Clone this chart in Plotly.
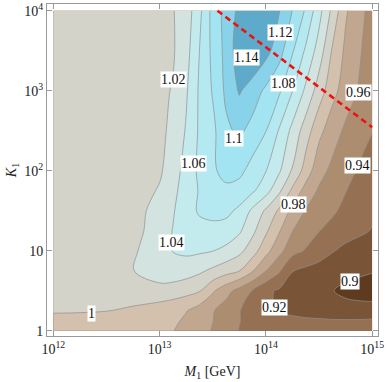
import plotly.graph_objects as go

# grid: log10(M1/GeV) columns, log10(K1) rows
m_exp = [12, 12.5, 12.75, 13, 13.125, 13.25, 13.375, 13.5, 13.625, 13.75, 13.875, 14,
         14.125, 14.25, 14.375, 14.5, 14.625, 14.75, 14.875, 15]
k_exp = [0, 0.125, 0.25, 0.5, 0.75, 1, 1.25, 1.5, 1.75, 2, 2.5, 3, 3.5, 4]

z_k0_00 = [0.995, 0.994, 0.992, 0.986, 0.9805, 0.975, 0.968, 0.9585, 0.9475, 0.9395, 0.936, 0.934, 0.932, 0.930, 0.929, 0.928, 0.928, 0.928, 0.928, 0.929]
z_k0_12 = [0.997, 0.996, 0.994, 0.988, 0.984, 0.9765, 0.968, 0.9605, 0.950, 0.9405, 0.935, 0.931, 0.928, 0.926, 0.924, 0.923, 0.922, 0.922, 0.922, 0.923]
z_k0_25 = [1.001, 1.0003, 0.997, 0.990, 0.986, 0.981, 0.971, 0.9615, 0.951, 0.9408, 0.9324, 0.9247, 0.918, 0.914, 0.911, 0.909, 0.907, 0.905, 0.905, 0.906]
z_k0_50 = [1.001, 1.004, 1.010, 1.013, 1.011, 1.007, 1.0015, 0.983, 0.967, 0.953, 0.939, 0.924, 0.9175, 0.913, 0.9085, 0.904, 0.9005, 0.897, 0.895, 0.893]
z_k0_75 = [1.002, 1.008, 1.0195, 1.031, 1.032, 1.029, 1.0235, 1.016, 1.0082, 1.0006, 0.9814, 0.9605, 0.9425, 0.9205, 0.9155, 0.911, 0.907, 0.904, 0.9025, 0.901]
z_k1_00 = [1.003, 1.006, 1.017, 1.033, 1.0405, 1.044, 1.043, 1.0405, 1.035, 1.0255, 1.009, 0.9867, 0.9662, 0.947, 0.9385, 0.931, 0.9215, 0.915, 0.912, 0.911]
z_k1_25 = [1.003, 1.005, 1.012, 1.0316, 1.0405, 1.046, 1.052, 1.054, 1.052, 1.043, 1.0246, 1.0033, 0.9817, 0.9605, 0.950, 0.9405, 0.934, 0.928, 0.9235, 0.919]
z_k1_50 = [1.003, 1.005, 1.011, 1.029, 1.0385, 1.0496, 1.063, 1.066, 1.065, 1.056, 1.0357, 1.0169, 0.9967, 0.9747, 0.959, 0.951, 0.943, 0.935, 0.928, 0.923]
z_k1_75 = [1.004, 1.006, 1.009, 1.022, 1.035, 1.049, 1.0615, 1.068, 1.074, 1.072, 1.063, 1.0477, 1.024, 0.9956, 0.972, 0.9575, 0.949, 0.9405, 0.935, 0.929]
z_k2_00 = [1.004, 1.006, 1.009, 1.017, 1.031, 1.047, 1.0643, 1.0757, 1.089, 1.085, 1.0724, 1.0605, 1.0427, 1.018, 0.9911, 0.9667, 0.9555, 0.9465, 0.938, 0.932]
z_k2_50 = [1.005, 1.007, 1.009, 1.015, 1.025, 1.0417, 1.0629, 1.0752, 1.096, 1.104, 1.093, 1.0805, 1.0583, 1.0345, 1.010, 0.9855, 0.969, 0.9565, 0.948, 0.9405]
z_k3_00 = [1.006, 1.008, 1.010, 1.0155, 1.0213, 1.0375, 1.0629, 1.0817, 1.104, 1.122, 1.1106, 1.096, 1.083, 1.0605, 1.036, 1.010, 0.9867, 0.9705, 0.9585, 0.944]
z_k3_50 = [1.007, 1.009, 1.011, 1.015, 1.018, 1.0325, 1.060, 1.085, 1.106, 1.132, 1.139, 1.127, 1.108, 1.082, 1.057, 1.031, 0.998, 0.976, 0.963, 0.948]
z_k4_00 = [1.008, 1.010, 1.012, 1.016, 1.019, 1.029, 1.055, 1.087, 1.1075, 1.125, 1.138, 1.134, 1.121, 1.0995, 1.0775, 1.047, 1.015, 0.9825, 0.967, 0.952]

z_rows = [z_k0_00, z_k0_12, z_k0_25, z_k0_50, z_k0_75, z_k1_00, z_k1_25, z_k1_50,
          z_k1_75, z_k2_00, z_k2_50, z_k3_00, z_k3_50, z_k4_00]

# contour levels
level_start, level_end, level_step = 0.90, 1.14, 0.02

# contour labels (text, log10 M1, log10 K1)
label_text = ["1.12", "1.14", "1.02", "1.08", "0.96", "1.1", "1.06", "0.94", "0.98", "1.04", "0.9", "0.92", "1"]
label_m_exp = [14.133, 13.813, 13.128, 14.161, 14.867, 13.70, 13.319, 14.857, 14.264, 13.108, 14.791, 14.081, 12.356]
label_k_exp = [3.734, 3.421, 3.146, 3.09, 2.977, 2.40, 2.096, 2.071, 1.578, 1.109, 0.615, 0.29, 0.215]

# red dashed line
line_m = [3.5e13, 1e15]
line_k = [1e4, 350]

band_colors = ['#5e3b1f', '#7a5436', '#957052', '#ad8d70', '#c1a78f', '#d3c1ad', '#d4d3ca',
               '#d3e3df', '#c3ebee', '#b4e9f2', '#a2e4f2', '#88d3e9', '#5eaacb', '#4d96ba']

n = len(band_colors) - 1
colorscale = [[i / n, c] for i, c in enumerate(band_colors)]

x_vals = [10 ** e for e in m_exp]
y_vals = [10 ** e for e in k_exp]

fig = go.Figure()
fig.add_trace(go.Contour(
    x=x_vals, y=y_vals, z=z_rows,
    colorscale=colorscale, showscale=False,
    autocontour=False,
    contours=dict(start=level_start, end=level_end, size=level_step, coloring='fill', showlabels=False),
    line=dict(color='#8f8f8f', width=0.7, smoothing=1.0),
    hoverinfo='skip',
))
fig.add_trace(go.Scatter(
    x=line_m, y=line_k, mode='lines',
    line=dict(color='#ee1111', width=2.6, dash='6px,4px'),
    hoverinfo='skip', showlegend=False,
))

for t, mx, ky in zip(label_text, label_m_exp, label_k_exp):
    fig.add_annotation(x=mx, y=ky, xref='x', yref='y', text=t, showarrow=False,
                       font=dict(family='Liberation Serif', size=14, color='#111'),
                       bgcolor='white', borderpad=0)

font = dict(family='Liberation Serif', size=14, color='#222')
fig.update_layout(
    width=388, height=382,
    margin=dict(l=47, r=10, t=4, b=46),
    paper_bgcolor='white', plot_bgcolor='white',
    showlegend=False,
    font=font,
    xaxis=dict(type='log', range=[11.9407, 15.0546], automargin=False,
               tickvals=[1e12, 1e13, 1e14, 1e15],
               ticktext=['10<sup>12</sup>', '10<sup>13</sup>', '10<sup>14</sup>', '10<sup>15</sup>'],
               ticks='inside', ticklen=5, tickcolor='#999', showgrid=False, zeroline=False,
               showline=True, linecolor='#999', linewidth=1, mirror='ticks',
               title=dict(text='<i>M</i><sub>1</sub> [GeV]', standoff=10, font=font)),
    yaxis=dict(type='log', range=[-0.066, 4.084], automargin=False,
               tickvals=[1, 10, 100, 1000, 10000],
               ticktext=['1', '10', '10<sup>2</sup>', '10<sup>3</sup>', '10<sup>4</sup>'],
               ticks='inside', ticklen=5, tickcolor='#999', showgrid=False, zeroline=False,
               showline=True, linecolor='#999', linewidth=1, mirror='ticks',
               title=dict(text='<i>K</i><sub>1</sub>', standoff=4, font=font)),
)

fig.write_html("out.html", config={'displayModeBar': False},
               post_script="document.body.style.margin='0';document.body.style.padding='0';")
